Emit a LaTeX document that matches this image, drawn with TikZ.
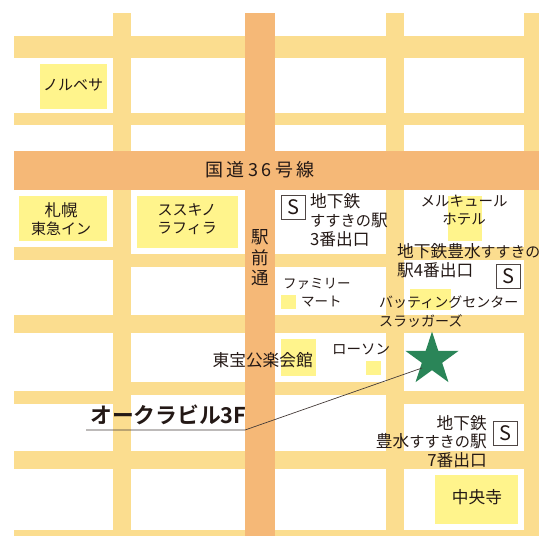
\documentclass[tikz,border=0pt]{standalone}
\usepackage{fontspec}
\setmainfont{Noto Sans CJK JP}
\newfontfamily\labelbold{Noto Sans CJK JP Bold}[BoldFont={Noto Sans CJK JP Bold}]
\usetikzlibrary{shapes.geometric}
\definecolor{roadlight}{HTML}{FBDD8F}
\definecolor{roadmain}{HTML}{F5B877}
\definecolor{bldg}{HTML}{FFF48C}
\definecolor{stargreen}{HTML}{2A8558}
\definecolor{inktext}{HTML}{231815}
\newcommand{\fsz}[1]{\fontsize{#1}{19}\selectfont}
\tikzset{
  lbl/.style={text=inktext,align=center,inner sep=0pt,font=\fontsize{15}{18.5}\selectfont},
  big/.style={font=\fontsize{16.7}{18.7}\selectfont},
  small/.style={font=\fontsize{14}{19}\selectfont},
  sbox/.style={draw=inktext!80,line width=0.7pt,fill=white,text=inktext,inner sep=0pt,minimum width=24pt,minimum height=24pt,font=\fontsize{20}{20}\selectfont},
}
\begin{document}
\begin{tikzpicture}[x=1pt,y=-1pt]
\useasboundingbox (0,0) rectangle (539,536);
% light roads
\foreach \a/\b/\c/\d in {14/36/539/58, 14/113/539/125, 14/247/113/260, 131/254/245/267, 275/254/386/267, 404/247/524/260,
  14/315/539/333, 14/391/113/404, 131/382/245/395, 275/382/386/395, 404/391/539/404, 14/451/539/469, 14/530/539/536,
  113/13/131/536, 386/13/404/536, 524/13/539/536}
  {\fill[roadlight] (\a,\b) rectangle (\c,\d);}
% main roads
\fill[roadmain] (244.5,13) rectangle (275,536);
\fill[roadmain] (14,151) rectangle (539,190);
% buildings
\foreach \a/\b/\c/\d in {40/64/107/109, 19/196/107/241, 137/196/238/248, 448/196/482/241, 410/289/451/310,
  281/295/296/309, 281/339/315.5/376, 366/361/380.5/375, 435/475/518/524}
  {\fill[bldg] (\a,\b) rectangle (\c,\d);}
% labels
\node[lbl] (norbesa) at (73,85) {ノルベサ};
\node[lbl] (sapporo) at (61,219) {{\fsz{16.5}札幌}\\東急イン};
\node[lbl] (lafilla) at (187,219) {ススキノ\\ラフィラ};
\node[lbl,font=\fontsize{18}{20}\selectfont\addfontfeature{LetterSpace=20}] (route) at (260,170) {国道36号線};
\node[lbl,font=\fontsize{17.5}{20.5}\selectfont] (ekimae) at (260,258) {駅\\前\\通};
\node[sbox] (s1) at (293.5,207.5) {S};
\node[lbl,big,align=left,anchor=north west] (ex3) at (310,193.5) {地下鉄\\{\fsz{15.2}すすきの}駅\\3番出口};
\node[lbl,font=\fontsize{14.5}{18.5}\selectfont] (mercure) at (464,210) {メルキュール\\ホテル};
\node[lbl,big,anchor=north west,align=left] (ex4) at (397,243.5) {地下鉄豊水{\fsz{14.9}すすきの}\\駅4番出口};
\node[sbox] (s2) at (508.5,276) {S};
\node[lbl,small,anchor=west,align=left,font=\fontsize{13.5}{16}\selectfont] (family) at (283,284) {ファミリー};
\node[lbl,small,anchor=west,font=\fontsize{13.5}{16}\selectfont] (mart) at (301,302) {マート};
\node[lbl,small,anchor=north west,align=left] (batting) at (379,296) {バッティングセンター\\スラッガーズ};
\node[lbl,font=\fontsize{14.5}{16}\selectfont] (lawson) at (361,349) {ローソン};
\node[lbl,big,anchor=east] (toho) at (313,360) {東宝公楽会館};
\node[lbl,big,anchor=north east,align=right] (ex7) at (487,415) {地下鉄\\豊水{\fsz{15.2}すすきの}駅\\7番出口};
\node[sbox] (s3) at (505.5,433) {S};
\node[lbl,big] (chuo) at (477,497) {中央寺};
\node[lbl,anchor=south west,font=\fontsize{21.8}{22}\labelbold\selectfont] (oak) at (90,425) {オークラビル3F};
% star
\node[star,star points=5,star point ratio=2.618,fill=stargreen,minimum size=56pt,inner sep=0pt] (star) at (432,359.5) {};
% leader
\coordinate (la) at (86,430);
\coordinate (lb) at (245,430);
\coordinate (lc) at (422,368);
\draw[inktext!85,line width=0.7pt] (la) -- (lb) -- (lc);
\end{tikzpicture}
\end{document}
